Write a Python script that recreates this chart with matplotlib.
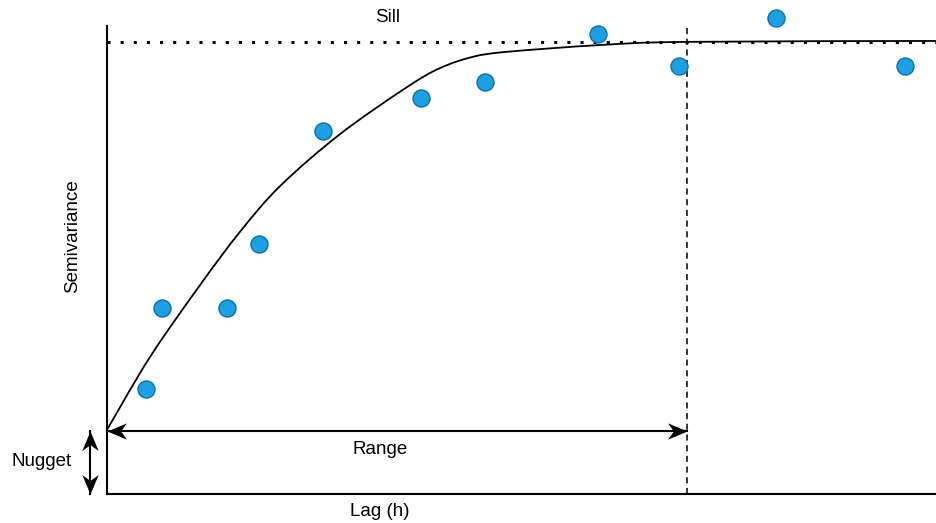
import numpy as np
from matplotlib import pyplot as plt
from matplotlib.path import Path
from matplotlib.patches import PathPatch
from matplotlib.markers import MarkerStyle
from matplotlib.transforms import Affine2D

plt.rcParams["font.family"] = ["Liberation Sans", "DejaVu Sans"]

# experimental semivariogram (lag, semivariance)
lag = [0.67, 0.95, 2.07, 2.62, 3.72, 5.41, 6.52, 8.47, 9.86, 11.53, 13.76]
gamma = [0.232, 0.412, 0.412, 0.553, 0.803, 0.876, 0.912, 1.018, 0.947, 1.053, 0.947]

# fitted model curve
model_lag = [0, 0.741, 1.603, 2.293, 2.983, 4.017, 5.172, 5.741, 6.310,
             6.897, 8.5, 10.0, 14.293]
model_gamma = [0.142, 0.303, 0.462, 0.580, 0.681, 0.796, 0.900, 0.942, 0.967,
               0.978, 0.993, 1.0, 1.002]

nugget = 0.139
sill = 1.0
range_ = 10.0

# concave arrow head, tip at the origin, pointing to +x
head = Path([(0, 0), (-1, 0.42), (-0.7, 0), (-1, -0.42), (0, 0)],
            [Path.MOVETO, Path.LINETO, Path.LINETO, Path.LINETO, Path.CLOSEPOLY])


def head_marker(angle):
    return MarkerStyle(head, transform=Affine2D().rotate_deg(angle))


def double_arrow(ax, x0, y0, x1, y1, angle):
    ax.plot([x0, x1], [y0, y1], color="black", lw=1.5, clip_on=False, zorder=5)
    ax.plot(x0, y0, marker=head_marker(angle + 180), ms=28, color="black",
            mew=0, clip_on=False, zorder=5)
    ax.plot(x1, y1, marker=head_marker(angle), ms=28, color="black",
            mew=0, clip_on=False, zorder=5)


def smooth_path(xs, ys):
    # Catmull-Rom spline through the points, as cubic bezier segments
    p = np.column_stack([xs, ys])
    ext = np.vstack([p[0], p, p[-1]])
    verts = [p[0]]
    codes = [Path.MOVETO]
    for i in range(len(p) - 1):
        c1 = p[i] + (ext[i + 2] - ext[i]) / 6
        c2 = p[i + 1] - (ext[i + 3] - ext[i + 1]) / 6
        verts += [c1, c2, p[i + 1]]
        codes += [Path.CURVE4] * 3
    return Path(verts, codes)


fig = plt.figure(figsize=(9.36, 5.23), dpi=100)
ax = fig.add_axes([0.1143, 0.0554, 0.8857, 0.8948])
ax.set_xlim(0, 14.29)
ax.set_ylim(0, 1.035)
for s in ["top", "right"]:
    ax.spines[s].set_visible(False)
for s in ["left", "bottom"]:
    ax.spines[s].set_linewidth(1.5)
ax.set_xticks([])
ax.set_yticks([])

# sill and range lines
ax.axhline(sill, color="black", lw=2.2, dashes=(1, 3.3), dash_capstyle="butt", zorder=2)
ax.axvline(range_, color="black", lw=1.1, dashes=(4, 3), zorder=2)

# model curve
ax.add_patch(PathPatch(smooth_path(model_lag, model_gamma), fill=False,
                       edgecolor="black", lw=1.3, zorder=3))

# data points
ax.scatter(lag, gamma, s=150, color="#1BA1E2", edgecolors="#0B6FAE", linewidths=1,
           zorder=4, clip_on=False)

# range and nugget arrows
double_arrow(ax, 0, nugget, range_, nugget, 0)
double_arrow(ax, -0.29, 0.0, -0.29, nugget, 90)

ax.text(range_ / 2 - 0.29, 0.118, "Range", ha="center", va="top", fontsize=13.5)
ax.text(range_ / 2 - 0.29, -0.02, "Lag (h)", ha="center", va="top", fontsize=13.5)
ax.text(4.83, 1.053, "Sill", ha="center", va="center", fontsize=13.5, clip_on=False)
fig.text(42 / 936, 1 - 462 / 523, "Nugget", ha="center", va="center", fontsize=13.5)
fig.text(73 / 936, 1 - 236 / 523, "Semivariance", ha="center", va="center",
         rotation=90, fontsize=13.5)

plt.savefig("out.png", dpi=100)
